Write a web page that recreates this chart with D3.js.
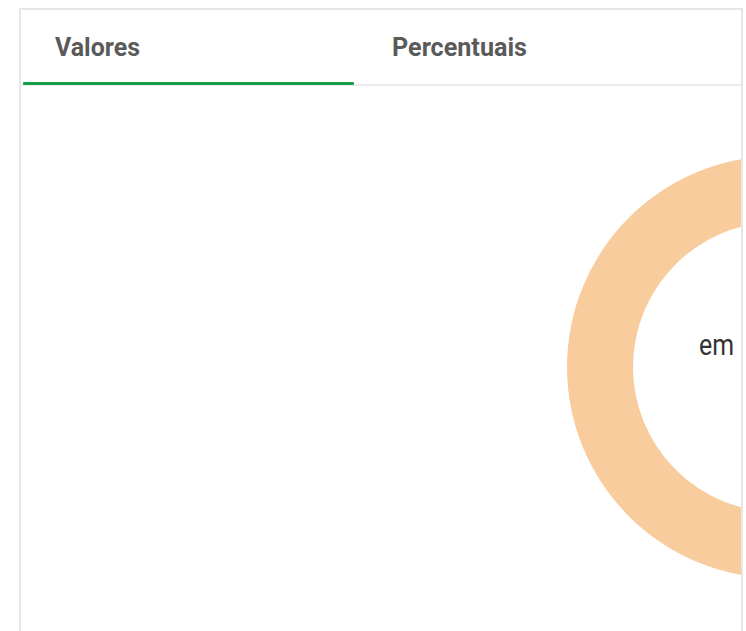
<!DOCTYPE html>
<html>
<head>
<meta charset="utf-8">
<script src="https://cdn.jsdelivr.net/npm/d3@7"></script>
<style>
  html, body { margin: 0; padding: 0; background: #ffffff; }
  svg { display: block; }
</style>
</head>
<body>
<svg id="chart" width="746" height="631"></svg>
<script>
// ---- data ----
const tabs = ["Valores", "Percentuais"];
const activeTab = "Valores";
const categories = ["Total"];
const values = [100];
const colors = ["#f9cc9d"];
const centerLabel = "em";

// ---- layout ----
const W = 746, H = 631;
const svg = d3.select("#chart");
const box = { x: 20, y: 9, w: 722, h: 700 };

// panel border
svg.append("rect")
  .attr("x", box.x).attr("y", box.y)
  .attr("width", box.w).attr("height", box.h)
  .attr("fill", "#fff").attr("stroke", "#e6e6e6").attr("stroke-width", 2);

// clip for panel interior
svg.append("clipPath").attr("id", "panelClip")
  .append("rect").attr("x", box.x + 1).attr("y", box.y + 1)
  .attr("width", box.w - 2).attr("height", box.h);

// tabs
const tabX = d3.scaleBand().domain(tabs).range([23, 23 + 331 * 2]);
const tabTextX = { "Valores": 55, "Percentuais": 392 };
const tabTextLen = { "Valores": 85, "Percentuais": 135 };

svg.append("line")
  .attr("x1", box.x + 1).attr("x2", box.x + box.w - 1)
  .attr("y1", 85).attr("y2", 85)
  .attr("stroke", "#ebebeb").attr("stroke-width", 2);

svg.selectAll("text.tab").data(tabs).join("text")
  .attr("class", "tab")
  .attr("x", d => tabTextX[d])
  .attr("y", 56)
  .attr("textLength", d => tabTextLen[d])
  .attr("lengthAdjust", "spacingAndGlyphs")
  .attr("font-family", "Roboto, 'Liberation Sans', sans-serif")
  .attr("font-weight", 700)
  .attr("font-size", 26)
  .attr("fill", "#5a5a5a")
  .text(d => d);

svg.append("rect")
  .attr("x", tabX(activeTab)).attr("y", 82)
  .attr("width", tabX.bandwidth()).attr("height", 3)
  .attr("rx", 1)
  .attr("fill", "#1a9d4b");

// donut
const cx = 778, cy = 367;
const pie = d3.pie().sort(null).value(d => d.value);
const arc = d3.arc().innerRadius(145).outerRadius(211);
const data = categories.map((c, i) => ({ name: c, value: values[i], color: colors[i] }));

const g = svg.append("g").attr("clip-path", "url(#panelClip)");
const donut = g.append("g").attr("transform", `translate(${cx},${cy})`);
donut.selectAll("path").data(pie(data)).join("path")
  .attr("d", arc)
  .attr("fill", d => d.data.color);

g.append("text")
  .attr("x", 699).attr("y", 355)
  .attr("textLength", 35)
  .attr("lengthAdjust", "spacingAndGlyphs")
  .attr("font-family", "Roboto, sans-serif")
  .attr("font-size", 30)
  .attr("fill", "#333333")
  .text(centerLabel);
</script>
</body>
</html>
